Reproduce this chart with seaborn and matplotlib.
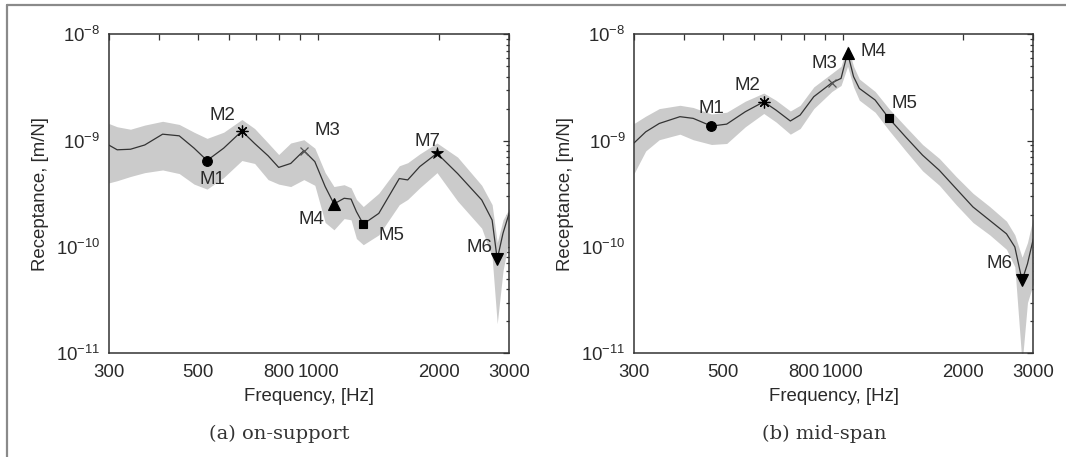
import numpy as np
import pandas as pd
import matplotlib
matplotlib.use("Agg")
import matplotlib.pyplot as plt
import matplotlib.ticker as mticker
from matplotlib.lines import Line2D
import seaborn as sns

# ---------------- data ----------------
# (a) on-support
a_freq = [300, 315, 340, 369, 409, 450, 490, 528, 581, 645, 694, 750, 797, 854, 921, 981,
          1041, 1095, 1161, 1208, 1246, 1296, 1417, 1594, 1673, 1793, 1980, 2229, 2560,
          2718, 2799, 2894, 3000]
a_mean = [9.1e-10, 8.2e-10, 8.3e-10, 9.1e-10, 1.15e-9, 1.11e-9, 8.5e-10, 6.5e-10, 8.5e-10,
          1.23e-9, 9.4e-10, 7.2e-10, 5.6e-10, 6.1e-10, 8.05e-10, 6.35e-10, 3.7e-10, 2.54e-10,
          2.87e-10, 2.82e-10, 2.15e-10, 1.64e-10, 2.07e-10, 4.4e-10, 4.27e-10, 5.7e-10,
          7.6e-10, 4.9e-10, 2.77e-10, 1.79e-10, 7.65e-11, 1.35e-10, 2.1e-10]
a_low = [4.0e-10, 4.2e-10, 4.6e-10, 5.0e-10, 5.3e-10, 4.9e-10, 3.9e-10, 3.5e-10, 4.5e-10,
         6.5e-10, 6.1e-10, 4.3e-10, 3.9e-10, 3.7e-10, 4.3e-10, 3.8e-10, 1.7e-10, 1.45e-10,
         1.85e-10, 1.8e-10, 1.2e-10, 1.05e-10, 1.3e-10, 2.5e-10, 2.8e-10, 3.6e-10, 5.0e-10,
         2.7e-10, 1.5e-10, 8.0e-11, 1.9e-11, 6.0e-11, 1.2e-10]
a_high = [1.45e-9, 1.35e-9, 1.28e-9, 1.4e-9, 1.52e-9, 1.42e-9, 1.2e-9, 1.05e-9, 1.2e-9,
          1.58e-9, 1.3e-9, 9.5e-10, 7.4e-10, 9.5e-10, 1.02e-9, 8.5e-10, 5.0e-10, 3.7e-10,
          3.85e-10, 3.6e-10, 2.8e-10, 2.4e-10, 3.2e-10, 5.8e-10, 6.2e-10, 7.5e-10, 9.5e-10,
          7.0e-10, 3.8e-10, 2.5e-10, 1.1e-10, 1.8e-10, 2.3e-10]
a_mark_lab = ["M1", "M2", "M3", "M4", "M5", "M6", "M7"]
a_mark_freq = [528, 645, 921, 1095, 1296, 2799, 1980]
a_mark_val = [6.5e-10, 1.23e-9, 8.05e-10, 2.54e-10, 1.64e-10, 7.65e-11, 7.6e-10]

# (b) mid-span
b_freq = [300, 321, 347, 391, 422, 469, 512, 570, 634, 680, 739, 782, 846, 939, 990, 1028,
          1064, 1100, 1205, 1305, 1438, 1584, 1745, 1922, 2118, 2333, 2570, 2697, 2812,
          2901, 3000]
b_mean = [9.5e-10, 1.21e-9, 1.45e-9, 1.68e-9, 1.62e-9, 1.37e-9, 1.43e-9, 1.87e-9, 2.32e-9,
          1.94e-9, 1.53e-9, 1.74e-9, 2.59e-9, 3.5e-9, 3.85e-9, 6.7e-9, 4.0e-9, 3.1e-9,
          2.41e-9, 1.62e-9, 1.08e-9, 7.3e-10, 5.26e-10, 3.54e-10, 2.38e-10, 1.78e-10,
          1.33e-10, 1.0e-10, 4.84e-11, 6.95e-11, 1.19e-10]
b_low = [4.9e-10, 8.0e-10, 1.02e-9, 1.15e-9, 1.02e-9, 9.2e-10, 9.4e-10, 1.35e-9, 1.8e-9,
         1.5e-9, 1.15e-9, 1.3e-9, 2.0e-9, 2.9e-9, 3.3e-9, 5.0e-9, 3.2e-9, 2.4e-9, 1.85e-9,
         1.25e-9, 8.0e-10, 5.2e-10, 3.8e-10, 2.5e-10, 1.7e-10, 1.3e-10, 9.5e-11, 6.5e-11,
         8.0e-12, 3.0e-11, 4.5e-11]
b_high = [1.45e-9, 1.7e-9, 2.0e-9, 2.15e-9, 2.05e-9, 1.78e-9, 1.85e-9, 2.35e-9, 2.8e-9,
          2.4e-9, 1.9e-9, 2.15e-9, 3.2e-9, 4.3e-9, 5.0e-9, 7.9e-9, 5.0e-9, 3.8e-9, 2.9e-9,
          2.0e-9, 1.35e-9, 9.2e-10, 6.8e-10, 4.6e-10, 3.2e-10, 2.4e-10, 1.75e-10, 1.3e-10,
          8.0e-11, 1.1e-10, 1.9e-10]
b_mark_lab = ["M1", "M2", "M3", "M4", "M5", "M6"]
b_mark_freq = [469, 634, 939, 1028, 1305, 2812]
b_mark_val = [1.37e-9, 2.32e-9, 3.5e-9, 6.7e-9, 1.62e-9, 4.84e-11]

xtick_pos = [300, 400, 500, 600, 700, 800, 900, 1000, 2000, 3000]
xtick_labeled = [300, 500, 800, 1000, 2000, 3000]
ytick_pos = [1e-11, 1e-10, 1e-9, 1e-8]
captions = ["(a) on-support", "(b) mid-span"]
xlabel = "Frequency, [Hz]"
ylabel = "Receptance, [m/N]"

# ---------------- style ----------------
sns.set_style("white")
plt.rcParams["font.family"] = ["Liberation Sans", "DejaVu Sans"]
plt.rcParams["mathtext.default"] = "regular"
plt.rcParams["mathtext.fontset"] = "custom"
plt.rcParams["mathtext.rm"] = "Liberation Sans"
plt.rcParams["mathtext.it"] = "Liberation Sans"

INK = "#333333"
TXT = "#2a2a2a"
BAND = "#cbcbcb"
FS = 13.4

fig = plt.figure(figsize=(10.66, 4.57), dpi=100)
W, H = 1066, 457
ax_a = fig.add_axes([108.7 / W, 1 - 353.3 / H, 400.6 / W, 319 / H])
ax_b = fig.add_axes([634 / W, 1 - 353.3 / H, 399.3 / W, 319 / H])

mstyle = {
    "M1": dict(marker="o", ms=7, mfc="black", mec="black", mew=0.8),
    "M2": dict(marker=(8, 2, 0), ms=8.5, mfc="none", mec="black", mew=0.9),
    "M3": dict(marker="x", ms=6, mfc="none", mec="#555555", mew=0.9),
    "M4": dict(marker="^", ms=8, mfc="black", mec="black", mew=0.8),
    "M5": dict(marker="s", ms=6, mfc="black", mec="black", mew=0.8),
    "M6": dict(marker="v", ms=8, mfc="black", mec="black", mew=0.8),
    "M7": dict(marker="*", ms=9, mfc="black", mec="black", mew=0.6),
}

px = 0.72
a_off = {"M1": (5 * px, -19 * px), "M2": (-19 * px, 16 * px), "M3": (24 * px, 20 * px),
         "M4": (-23 * px, -16 * px), "M5": (28 * px, -11 * px), "M6": (-18 * px, 12 * px),
         "M7": (-10 * px, 12 * px)}
b_off = {"M1": (0, 18 * px), "M2": (-16 * px, 16 * px), "M3": (-7 * px, 19 * px),
         "M4": (26 * px, 1 * px), "M5": (15 * px, 15 * px), "M6": (-23 * px, 17 * px)}


def draw(ax, freq, mean, low, high, labs, mf, mv, offs):
    df = pd.DataFrame({"f": freq, "m": mean, "lo": low, "hi": high})
    ax.fill_between(df["f"], df["lo"], df["hi"], color=BAND, lw=0, zorder=1)
    sns.lineplot(data=df, x="f", y="m", ax=ax, color=INK, lw=0.9, zorder=3, legend=False)
    ax.set_xscale("log")
    ax.set_yscale("log")
    for lab, f, v in zip(labs, mf, mv):
        ax.plot([f], [v], ls="none", zorder=4, clip_on=False, **mstyle[lab])
        dx, dy = offs[lab]
        ax.annotate(lab, xy=(f, v), xytext=(dx, dy), textcoords="offset points",
                    ha="center", va="center", fontsize=FS, color=TXT, zorder=5)
    ax.set_xlim(300, 3000)
    ax.set_ylim(1e-11, 1e-8)
    ax.xaxis.set_major_locator(mticker.FixedLocator(xtick_pos))
    ax.xaxis.set_minor_locator(mticker.NullLocator())
    ax.xaxis.set_major_formatter(mticker.FuncFormatter(
        lambda x, p: f"{int(round(x))}" if int(round(x)) in xtick_labeled else ""))
    ax.yaxis.set_major_locator(mticker.FixedLocator(ytick_pos))
    minors = [m * d for d in ytick_pos[:-1] for m in range(2, 10)]
    ax.yaxis.set_minor_locator(mticker.FixedLocator(minors))
    ax.yaxis.set_major_formatter(mticker.LogFormatterSciNotation())
    ax.yaxis.set_minor_formatter(mticker.NullFormatter())
    ax.tick_params(which="both", direction="in", top=True, right=True, colors=INK,
                   labelcolor=TXT, labelsize=FS, width=0.9)
    ax.tick_params(axis="x", which="major", length=4, pad=8)
    ax.tick_params(axis="y", which="major", length=4, pad=6)
    ax.tick_params(which="minor", length=2.5)
    for s in ax.spines.values():
        s.set_color(INK)
        s.set_linewidth(1.1)
        s.set_visible(True)
    ax.set_xlabel(xlabel, fontsize=FS, color=TXT, labelpad=5)
    ax.set_ylabel(ylabel, fontsize=FS, color=TXT, labelpad=5)


draw(ax_a, a_freq, a_mean, a_low, a_high, a_mark_lab, a_mark_freq, a_mark_val, a_off)
draw(ax_b, b_freq, b_mean, b_low, b_high, b_mark_lab, b_mark_freq, b_mark_val, b_off)

fig.text(279 / W, 1 - 434 / H, captions[0], ha="center", va="center",
         fontsize=14, family="DejaVu Serif", color="#333333")
fig.text(824 / W, 1 - 434 / H, captions[1], ha="center", va="center",
         fontsize=14, family="DejaVu Serif", color="#333333")

fig.add_artist(Line2D([6.5 / W, 6.5 / W], [0, 1 - 5 / H], transform=fig.transFigure,
                      color="#8a8a8a", lw=1.6))
fig.add_artist(Line2D([6.5 / W, 1], [1 - 5 / H, 1 - 5 / H], transform=fig.transFigure,
                      color="#8a8a8a", lw=1.6))

fig.savefig("out.png", dpi=100, facecolor="white")
